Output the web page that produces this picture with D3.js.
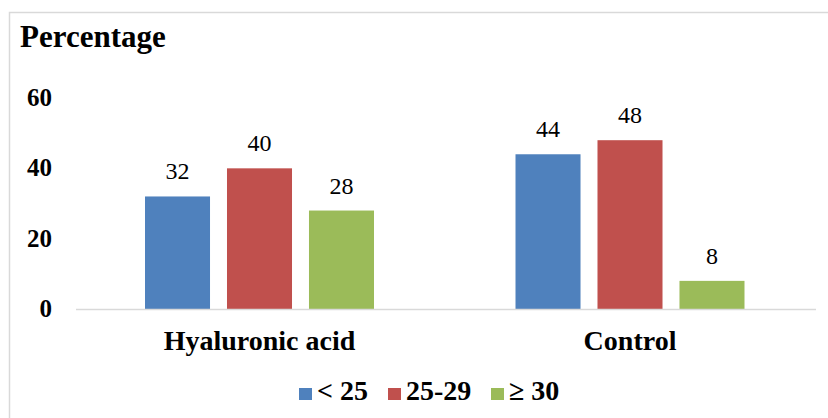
<!DOCTYPE html>
<html><head><meta charset="utf-8">
<script src="https://cdn.jsdelivr.net/npm/d3@7"></script>
<style>body{margin:0;background:#fff}svg{display:block}
svg text{font-family:"Liberation Serif","Times New Roman",Tinos,"DejaVu Serif",serif}</style>
</head><body><svg id="c" width="828" height="418"></svg>
<script>
const categories = ["Hyaluronic acid", "Control"];
const seriesNames = ["< 25", "25-29", "\u2265 30"];
const seriesColors = ["#4f81bd", "#c0504d", "#9bbb59"];
const lt25 = [32, 44];
const s25to29 = [40, 48];
const ge30 = [28, 8];
const yTicks = [0, 20, 40, 60];
const seriesValues = [lt25, s25to29, ge30];

const svg = d3.select("#c");
svg.append("rect").attr("x", 9.5).attr("y", 12.5).attr("width", 830).attr("height", 420)
  .attr("fill", "none").attr("stroke", "#d9d9d9").attr("stroke-width", 1.5);

const x0 = d3.scaleBand().domain(categories).range([74.25, 815.25]).paddingInner(0).paddingOuter(0);
const x1 = d3.scaleBand().domain(seriesNames).range([0, x0.bandwidth()]).paddingInner(0.207).paddingOuter(0.863);
const y = d3.scaleLinear().domain([0, 60]).range([309, 98]);

svg.append("text").attr("x", 20).attr("y", 47).text("Percentage")
  .attr("font-weight", "bold").attr("font-size", 31).attr("fill", "#000");

const yAxis = d3.axisLeft(y).tickValues(yTicks).tickSize(0).tickPadding(0);
const ga = svg.append("g").attr("transform", "translate(52,0)").call(yAxis);
ga.select(".domain").remove();
ga.attr("font-family", null);
ga.selectAll("text").attr("font-weight", "bold").attr("font-size", 25).attr("fill", "#000").attr("dy", "0.3em");

const groups = svg.append("g").selectAll("g").data(categories).join("g")
  .attr("transform", d => `translate(${x0(d)},0)`);
seriesNames.forEach((s, si) => {
  groups.append("rect")
    .attr("x", x1(s)).attr("width", x1.bandwidth())
    .attr("y", (d, ci) => y(seriesValues[si][ci]))
    .attr("height", (d, ci) => y(0) - y(seriesValues[si][ci]))
    .attr("fill", seriesColors[si]);
  groups.append("text")
    .attr("x", x1(s) + x1.bandwidth() / 2)
    .attr("y", (d, ci) => y(seriesValues[si][ci]) - 17)
    .attr("text-anchor", "middle")
    .attr("font-size", 24).attr("fill", "#000")
    .text((d, ci) => seriesValues[si][ci]);
});

svg.append("line").attr("x1", 76).attr("x2", 816).attr("y1", 309.5).attr("y2", 309.5)
  .attr("stroke", "#d9d9d9").attr("stroke-width", 1.5);

const xAxis = d3.axisBottom(x0).tickSize(0).tickPadding(0);
const gx = svg.append("g").attr("transform", "translate(0,342)").call(xAxis);
gx.select(".domain").remove();
gx.attr("font-family", null);
gx.selectAll("text").attr("font-weight", "bold").attr("font-size", 28).attr("fill", "#000").attr("dy", "0.3em");

const legendX = [299, 388, 491];
const lg = svg.append("g");
seriesNames.forEach((s, i) => {
  lg.append("rect").attr("x", legendX[i]).attr("y", 388).attr("width", 13).attr("height", 12).attr("fill", seriesColors[i]);
  lg.append("text").attr("x", legendX[i] + 18).attr("y", 400).text(s)
    .attr("font-weight", "bold").attr("font-size", 28).attr("fill", "#000");
});
</script></body></html>
